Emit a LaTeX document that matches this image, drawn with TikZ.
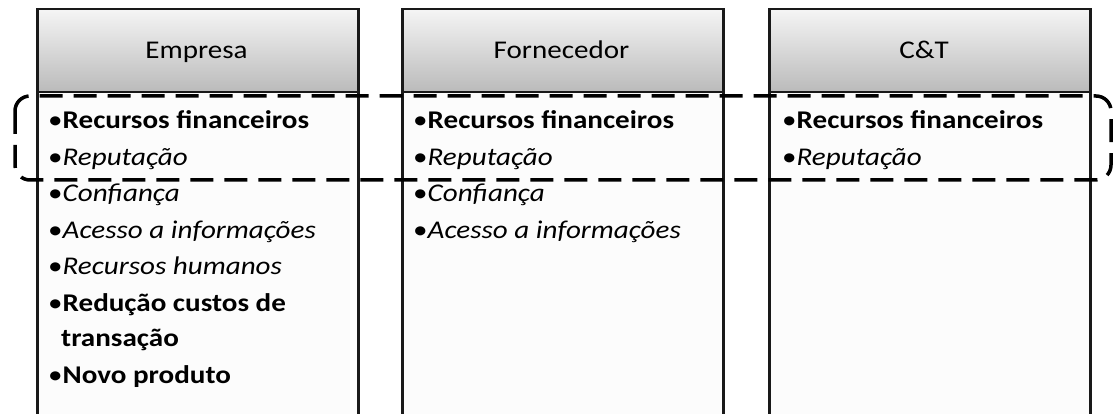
\documentclass[tikz,border=0pt]{standalone}
\usepackage{fontspec}
\setmainfont{Carlito}[FakeStretch=1.14]
\begin{document}
\begin{tikzpicture}[x=1pt,y=-1pt,
  boxline/.style={draw=black!90,line width=2.5pt},
  headbox/.style={boxline,rectangle,top color=black!4,bottom color=black!27,
     minimum width=321pt,minimum height=83pt,inner sep=0pt,anchor=north west},
  bodybox/.style={boxline,rectangle,fill=black!1,
     minimum width=321pt,minimum height=340pt,inner sep=0pt,anchor=north west},
  headtext/.style={anchor=base,inner sep=0pt,font=\fontsize{25.5}{29}\selectfont},
  itemtext/.style={anchor=base west,inner sep=0pt,font=\fontsize{25.5}{29}\selectfont},
  groupline/.style={draw=black,line width=3.5pt,dash pattern=on 23pt off 11pt,rounded corners=15pt}
]
\useasboundingbox (0,0) rectangle (1114,414);
\clip (0,0) rectangle (1114,414);
\fill[white] (0,0) rectangle (1114,414);

% column boxes
\node[bodybox] (b1) at (36,91) {};
\node[bodybox] (b2) at (401,91) {};
\node[bodybox] (b3) at (768,91) {};
\node[headbox] (h1) at (36,8) {};
\node[headbox] (h2) at (401,8) {};
\node[headbox] (h3) at (768,8) {};

% headers
\node[headtext] (t1) at (196.5,59) {Empresa};
\node[headtext] (t2) at (561.5,59) {Fornecedor};
\node[headtext] (t3) at (924,59) {C\&T};

% column 1
\node[itemtext] (a1) at (48,129) {•\textbf{Recursos financeiros}};
\node[itemtext] (a2) at (48,165.5) {•\textit{Reputação}};
\node[itemtext] (a3) at (48,202) {•\textit{Confiança}};
\node[itemtext] (a4) at (48,238.5) {•\textit{Acesso a informações}};
\node[itemtext] (a5) at (48,275) {•\textit{Recursos humanos}};
\node[itemtext] (a6) at (48,311.5) {•\textbf{Redução custos de}};
\node[itemtext] (a7) at (61,346) {\textbf{transação}};
\node[itemtext] (a8) at (48,383) {•\textbf{Novo produto}};

% column 2
\node[itemtext] (c1) at (413,129) {•\textbf{Recursos financeiros}};
\node[itemtext] (c2) at (413,165.5) {•\textit{Reputação}};
\node[itemtext] (c3) at (413,202) {•\textit{Confiança}};
\node[itemtext] (c4) at (413,238.5) {•\textit{Acesso a informações}};

% column 3
\node[itemtext] (d1) at (782,129) {•\textbf{Recursos financeiros}};
\node[itemtext] (d2) at (782,165.5) {•\textit{Reputação}};

% dashed grouping frame
\draw[groupline] (15,96) rectangle (1111,180);
\end{tikzpicture}
\end{document}
